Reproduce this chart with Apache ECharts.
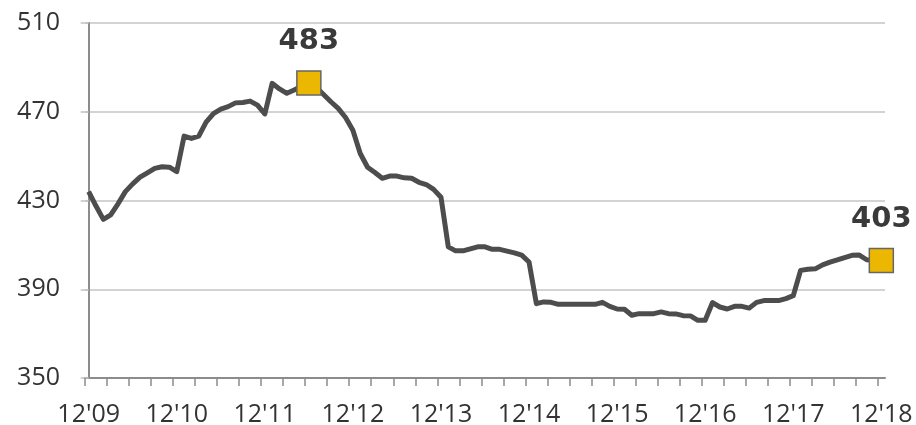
<!DOCTYPE html>
<html>
<head>
<meta charset="utf-8">
<script src="https://cdn.jsdelivr.net/npm/echarts@6/dist/echarts.min.js"></script>
<style>
html,body{margin:0;padding:0;background:#fff;}
#chart{width:916px;height:425px;}
</style>
</head>
<body>
<div id="chart"></div>
<script>
// Tick labels (December of each year)
const tickLabels = ["12'09","12'10","12'11","12'12","12'13","12'14","12'15","12'16","12'17","12'18"];
// Monthly values, Dec 2009 .. Dec 2018
const values = [
  434, 427.5, 421.5, 423.5, 428.5, 434, 437.5, 440.5, 442.5, 444.5, 445.2, 445,
  443, 459, 458, 459, 465.3, 469.2, 471.2, 472.3, 474, 474.2, 474.8, 473,
  469, 482.8, 480.3, 478.3, 479.8, 481.5, 483, 481, 477.8, 474.5, 471.5, 467.4,
  461.7, 451.2, 445, 442.6, 440, 441, 441, 440.2, 440, 438.2, 437.2, 435,
  431.5, 409.1, 407.3, 407.3, 408.2, 409.1, 409.1, 408, 408, 407.2, 406.4, 405.4,
  402.3, 383.5, 384.3, 384.1, 383.2, 383.2, 383.2, 383.2, 383.2, 383.2, 384.1, 382.3,
  381.1, 381, 378.3, 379, 379, 379, 379.8, 379, 378.9, 378.1, 378, 376,
  376, 384, 382, 381.1, 382.3, 382.3, 381.5, 384.1, 384.9, 384.9, 384.9, 385.8,
  387.1, 398.5, 399, 399.2, 401, 402.2, 403.2, 404.3, 405.3, 405.4, 403.3, 403,
  403
];
// Highlighted points (peak and latest)
const highlightIdx = [30, 108];

const monthsPerLabel = 12;
const monthsPerTick = 3;

const seriesData = values.map((v, i) => {
  if (highlightIdx.indexOf(i) >= 0) {
    return {
      value: [i, v],
      symbol: 'rect',
      symbolSize: 24,
      itemStyle: { color: '#EBB700', borderColor: '#666666', borderWidth: 1.5 },
      label: {
        show: true,
        position: 'top',
        distance: 14,
        formatter: () => String(Math.round(v)),
        fontFamily: 'DejaVu Sans',
        fontWeight: 'bold',
        fontSize: 29,
        color: '#3a3a3a'
      }
    };
  }
  return [i, v];
});

const tickValues = [];
for (let k = 0; k * monthsPerTick <= values.length - 1; k++) tickValues.push(k * monthsPerTick - 0.5);
const labelValues = tickLabels.map((_, k) => k * monthsPerLabel);

const chart = echarts.init(document.getElementById('chart'), null, { renderer: 'canvas' });
chart.setOption({
  animation: false,
  backgroundColor: '#ffffff',
  grid: { left: 85, right: 31, top: 23, bottom: 47, containLabel: false, outerBoundsMode: 'none' },
  xAxis: {
    type: 'value',
    min: -0.5,
    max: values.length - 0.5,
    axisLine: { show: true, lineStyle: { color: '#8c8c8c', width: 2 } },
    axisTick: { show: true, length: 8, customValues: tickValues, lineStyle: { color: '#8c8c8c', width: 1.5 } },
    axisLabel: {
      show: true,
      customValues: labelValues,
      formatter: (v) => tickLabels[Math.round(v / monthsPerLabel)],
      margin: 24,
      fontFamily: 'Open Sans',
      fontSize: 25,
      color: '#333333'
    },
    splitLine: { show: false }
  },
  yAxis: {
    type: 'value',
    min: 350,
    max: 510,
    interval: 40,
    axisLine: { show: true, lineStyle: { color: '#8c8c8c', width: 2 } },
    axisTick: { show: true, length: 8, lineStyle: { color: '#c4c4c4', width: 1.5 } },
    axisLabel: {
      margin: 25,
      fontFamily: 'Open Sans',
      fontSize: 25,
      color: '#333333'
    },
    splitLine: { show: true, lineStyle: { color: '#c4c4c4', width: 1.5 } }
  },
  series: [{
    type: 'line',
    data: seriesData,
    symbol: 'none',
    showSymbol: true,
    lineStyle: { color: '#4d4d4d', width: 5, join: 'round' },
    itemStyle: { color: '#4d4d4d' },
    z: 3
  }]
});
</script>
</body>
</html>
